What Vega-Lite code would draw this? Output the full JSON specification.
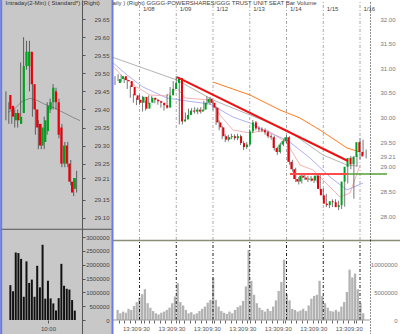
{
  "$schema": "https://vega.github.io/schema/vega-lite/v6.json",
  "width": 400,
  "height": 334,
  "autosize": {"type": "none"},
  "padding": 0,
  "background": "#c8c8c8",
  "config": {
    "view": {"stroke": null},
    "axis": {"labelFont": "Liberation Sans", "labelFontSize": 6, "grid": false, "labelOverlap": false, "titleFont": "Liberation Sans", "titleFontSize": 6, "titleFontWeight": "normal"}
  },
  "resolve": {"scale": {"x": "independent", "y": "independent"}, "axis": {"x": "independent", "y": "independent"}},
  "datasets": {
    "lc": [
      {"i":1,"o":29.44,"c":29.40,"h":29.45,"l":29.37},
      {"i":2,"o":29.41,"c":29.38,"h":29.42,"l":29.36},
      {"i":3,"o":29.37,"c":29.39,"h":29.40,"l":29.36},
      {"i":4,"o":29.39,"c":29.37,"h":29.40,"l":29.35},
      {"i":5,"o":29.36,"c":29.38,"h":29.40,"l":29.35},
      {"i":6,"o":29.39,"c":29.52,"h":29.53,"l":29.38},
      {"i":7,"o":29.52,"c":29.56,"h":29.60,"l":29.50},
      {"i":8,"o":29.52,"c":29.56,"h":29.59,"l":29.51},
      {"i":9,"o":29.56,"c":29.47,"h":29.59,"l":29.45},
      {"i":10,"o":29.47,"c":29.40,"h":29.48,"l":29.38},
      {"i":11,"o":29.40,"c":29.35,"h":29.42,"l":29.33},
      {"i":12,"o":29.36,"c":29.30,"h":29.37,"l":29.29},
      {"i":13,"o":29.30,"c":29.35,"h":29.36,"l":29.29},
      {"i":14,"o":29.31,"c":29.37,"h":29.38,"l":29.29},
      {"i":15,"o":29.34,"c":29.41,"h":29.42,"l":29.33},
      {"i":16,"o":29.40,"c":29.42,"h":29.43,"l":29.39},
      {"i":17,"o":29.42,"c":29.46,"h":29.47,"l":29.40},
      {"i":18,"o":29.45,"c":29.42,"h":29.46,"l":29.40},
      {"i":19,"o":29.42,"c":29.33,"h":29.43,"l":29.32},
      {"i":20,"o":29.35,"c":29.25,"h":29.36,"l":29.24},
      {"i":21,"o":29.25,"c":29.30,"h":29.31,"l":29.24},
      {"i":22,"o":29.30,"c":29.25,"h":29.31,"l":29.24},
      {"i":23,"o":29.25,"c":29.20,"h":29.26,"l":29.19},
      {"i":24,"o":29.20,"c":29.17,"h":29.21,"l":29.16},
      {"i":25,"o":29.18,"c":29.21,"h":29.23,"l":29.17}
    ],
    "lv": [
      {"i":1,"v":1.26},{"i":2,"v":1.04},{"i":3,"v":2.44},{"i":4,"v":2.42},{"i":5,"v":2.21},
      {"i":6,"v":0.84},{"i":7,"v":2.12},{"i":8,"v":1.34},{"i":9,"v":1.46},{"i":10,"v":0.84},
      {"i":11,"v":1.96},{"i":12,"v":1.18},{"i":13,"v":2.72},{"i":14,"v":0.77},{"i":15,"v":1.42},
      {"i":16,"v":0.78},{"i":17,"v":0.6},{"i":18,"v":0.34},{"i":19,"v":0.79},{"i":20,"v":2.03},
      {"i":21,"v":1.24},{"i":22,"v":1.13},{"i":23,"v":1.1},{"i":24,"v":0.72},{"i":25,"v":0.34}
    ],
    "lma": [
      {"i":1.71,"p":29.392},{"i":4.09,"p":29.403},{"i":6.47,"p":29.422},{"i":9.18,"p":29.431},
      {"i":11.56,"p":29.425},{"i":14.27,"p":29.414},{"i":16.98,"p":29.406},{"i":20.38,"p":29.392},
      {"i":23.77,"p":29.378},{"i":26.15,"p":29.369}
    ],
    "days": [
      {"t":1,"p0":27.513,"p1":32.386,"v0":0,"v1":14.29},{"t":2,"p0":27.513,"p1":32.386,"v0":0,"v1":14.29},
      {"t":3,"p0":27.513,"p1":32.386,"v0":0,"v1":14.29},{"t":4,"p0":27.513,"p1":32.386,"v0":0,"v1":14.29},
      {"t":5,"p0":27.513,"p1":32.386,"v0":0,"v1":14.29},{"t":6,"p0":27.513,"p1":32.386,"v0":0,"v1":14.29},
      {"t":7,"p0":27.513,"p1":32.386,"v0":0,"v1":14.29}
    ],
    "rc": [
      {"t":0.333,"o":30.70,"c":30.78,"h":30.84,"l":30.66},
      {"t":0.417,"o":30.78,"c":30.84,"h":30.88,"l":30.74},
      {"t":0.5,"o":30.84,"c":30.76,"h":30.87,"l":30.72},
      {"t":0.583,"o":30.76,"c":30.74,"h":30.80,"l":30.70},
      {"t":0.667,"o":30.74,"c":30.62,"h":30.77,"l":30.58},
      {"t":0.75,"o":30.62,"c":30.45,"h":30.65,"l":30.40},
      {"t":0.833,"o":30.45,"c":30.36,"h":30.48,"l":30.30},
      {"t":0.917,"o":30.36,"c":30.30,"h":30.40,"l":30.25},
      {"t":1.0,"o":30.30,"c":30.42,"h":30.46,"l":30.26},
      {"t":1.083,"o":30.42,"c":30.18,"h":30.44,"l":30.12},
      {"t":1.167,"o":30.18,"c":30.30,"h":30.34,"l":30.14},
      {"t":1.25,"o":30.30,"c":30.40,"h":30.45,"l":30.27},
      {"t":1.333,"o":30.40,"c":30.36,"h":30.44,"l":30.32},
      {"t":1.417,"o":30.36,"c":30.33,"h":30.40,"l":30.29},
      {"t":1.5,"o":30.33,"c":30.30,"h":30.37,"l":30.26},
      {"t":1.583,"o":30.30,"c":30.25,"h":30.34,"l":30.20},
      {"t":1.667,"o":30.25,"c":30.20,"h":30.29,"l":30.14},
      {"t":1.75,"o":30.20,"c":30.45,"h":30.48,"l":30.18},
      {"t":1.833,"o":30.45,"c":30.58,"h":30.62,"l":30.42},
      {"t":1.917,"o":30.58,"c":30.70,"h":30.74,"l":30.55},
      {"t":2.0,"o":30.70,"c":30.80,"h":30.84,"l":30.66},
      {"t":2.083,"o":30.80,"c":29.92,"h":30.82,"l":29.86},
      {"t":2.167,"o":29.92,"c":29.96,"h":30.02,"l":29.86},
      {"t":2.25,"o":29.96,"c":30.05,"h":30.10,"l":29.92},
      {"t":2.333,"o":30.05,"c":30.14,"h":30.18,"l":30.01},
      {"t":2.417,"o":30.14,"c":30.12,"h":30.19,"l":30.07},
      {"t":2.5,"o":30.12,"c":30.16,"h":30.21,"l":30.08},
      {"t":2.583,"o":30.16,"c":30.12,"h":30.20,"l":30.07},
      {"t":2.667,"o":30.12,"c":30.16,"h":30.21,"l":30.08},
      {"t":2.75,"o":30.16,"c":30.30,"h":30.34,"l":30.13},
      {"t":2.833,"o":30.30,"c":30.38,"h":30.43,"l":30.26},
      {"t":2.917,"o":30.38,"c":30.30,"h":30.42,"l":30.26},
      {"t":3.0,"o":30.30,"c":30.20,"h":30.34,"l":30.15},
      {"t":3.083,"o":30.20,"c":29.90,"h":30.23,"l":29.85},
      {"t":3.167,"o":29.90,"c":29.80,"h":29.94,"l":29.74},
      {"t":3.25,"o":29.80,"c":29.62,"h":29.83,"l":29.56},
      {"t":3.333,"o":29.62,"c":29.55,"h":29.66,"l":29.50},
      {"t":3.417,"o":29.55,"c":29.60,"h":29.65,"l":29.51},
      {"t":3.5,"o":29.60,"c":29.62,"h":29.67,"l":29.56},
      {"t":3.583,"o":29.62,"c":29.58,"h":29.66,"l":29.54},
      {"t":3.667,"o":29.58,"c":29.62,"h":29.67,"l":29.54},
      {"t":3.75,"o":29.62,"c":29.48,"h":29.65,"l":29.44},
      {"t":3.833,"o":29.48,"c":29.40,"h":29.52,"l":29.34},
      {"t":3.917,"o":29.40,"c":29.45,"h":29.50,"l":29.36},
      {"t":4.0,"o":29.45,"c":29.72,"h":29.76,"l":29.42},
      {"t":4.083,"o":29.72,"c":29.90,"h":29.95,"l":29.68},
      {"t":4.167,"o":29.90,"c":29.78,"h":29.93,"l":29.74},
      {"t":4.25,"o":29.78,"c":29.76,"h":29.82,"l":29.71},
      {"t":4.333,"o":29.76,"c":29.74,"h":29.80,"l":29.70},
      {"t":4.417,"o":29.74,"c":29.70,"h":29.78,"l":29.65},
      {"t":4.5,"o":29.70,"c":29.62,"h":29.73,"l":29.58},
      {"t":4.583,"o":29.62,"c":29.60,"h":29.66,"l":29.55},
      {"t":4.667,"o":29.60,"c":29.38,"h":29.63,"l":29.33},
      {"t":4.75,"o":29.38,"c":29.30,"h":29.41,"l":29.24},
      {"t":4.833,"o":29.30,"c":29.45,"h":29.49,"l":29.27},
      {"t":4.917,"o":29.45,"c":29.52,"h":29.56,"l":29.42},
      {"t":5.0,"o":29.52,"c":29.60,"h":29.64,"l":29.48},
      {"t":5.083,"o":29.60,"c":29.10,"h":29.62,"l":29.04},
      {"t":5.167,"o":29.10,"c":28.95,"h":29.14,"l":28.90},
      {"t":5.25,"o":28.95,"c":28.75,"h":28.98,"l":28.69},
      {"t":5.333,"o":28.75,"c":28.70,"h":28.79,"l":28.64},
      {"t":5.417,"o":28.70,"c":28.82,"h":28.86,"l":28.66},
      {"t":5.5,"o":28.82,"c":28.78,"h":28.86,"l":28.73},
      {"t":5.583,"o":28.78,"c":28.74,"h":28.82,"l":28.69},
      {"t":5.667,"o":28.74,"c":28.76,"h":28.81,"l":28.70},
      {"t":5.75,"o":28.76,"c":28.72,"h":28.80,"l":28.67},
      {"t":5.833,"o":28.72,"c":28.82,"h":28.86,"l":28.68},
      {"t":5.917,"o":28.82,"c":28.55,"h":28.85,"l":28.50},
      {"t":6.0,"o":28.55,"c":28.42,"h":28.58,"l":28.36},
      {"t":6.083,"o":28.42,"c":28.25,"h":28.45,"l":28.18},
      {"t":6.167,"o":28.25,"c":28.22,"h":28.29,"l":28.16},
      {"t":6.25,"o":28.22,"c":28.30,"h":28.34,"l":28.18},
      {"t":6.333,"o":28.30,"c":28.28,"h":28.34,"l":28.23},
      {"t":6.417,"o":28.28,"c":28.18,"h":28.31,"l":28.12},
      {"t":6.5,"o":28.18,"c":28.22,"h":28.27,"l":28.14},
      {"t":6.583,"o":28.22,"c":28.70,"h":28.74,"l":28.19},
      {"t":6.667,"o":28.70,"c":29.00,"h":29.05,"l":28.66},
      {"t":6.75,"o":29.00,"c":29.18,"h":29.22,"l":28.95},
      {"t":6.833,"o":29.18,"c":29.05,"h":29.22,"l":28.35},
      {"t":6.917,"o":29.05,"c":29.20,"h":29.25,"l":29.00},
      {"t":7.0,"o":29.20,"c":29.50,"h":29.58,"l":29.15},
      {"t":7.083,"o":29.50,"c":29.30,"h":29.55,"l":29.25},
      {"t":7.167,"o":29.30,"c":29.21,"h":29.35,"l":29.17}
    ],
    "rv": [
      {"t":0.269,"v":1.8},{"t":0.346,"v":1.2},{"t":0.423,"v":1.5},{"t":0.5,"v":1.3},{"t":0.577,"v":2.0},{"t":0.654,"v":1.8},{"t":0.731,"v":2.5},{"t":0.808,"v":3.2},{"t":0.885,"v":4.0},{"t":0.962,"v":4.6},
      {"t":1.038,"v":5.5},{"t":1.115,"v":3.0},{"t":1.192,"v":2.2},{"t":1.269,"v":1.6},{"t":1.346,"v":1.2},{"t":1.423,"v":1.0},{"t":1.5,"v":1.3},{"t":1.577,"v":1.5},{"t":1.654,"v":1.8},{"t":1.731,"v":2.2},{"t":1.808,"v":3.0},{"t":1.885,"v":4.2},{"t":1.962,"v":6.6},
      {"t":2.038,"v":3.2},{"t":2.115,"v":2.6},{"t":2.192,"v":1.8},{"t":2.269,"v":1.2},{"t":2.346,"v":1.4},{"t":2.423,"v":1.0},{"t":2.5,"v":1.2},{"t":2.577,"v":1.6},{"t":2.654,"v":2.0},{"t":2.731,"v":2.4},{"t":2.808,"v":3.1},{"t":2.885,"v":3.6},{"t":2.962,"v":7.5},
      {"t":3.038,"v":3.6},{"t":3.115,"v":2.4},{"t":3.192,"v":1.6},{"t":3.269,"v":1.3},{"t":3.346,"v":1.1},{"t":3.423,"v":1.5},{"t":3.5,"v":1.2},{"t":3.577,"v":1.8},{"t":3.654,"v":2.3},{"t":3.731,"v":2.6},{"t":3.808,"v":3.4},{"t":3.885,"v":6.0},{"t":3.962,"v":12.5},
      {"t":4.038,"v":7.0},{"t":4.115,"v":4.5},{"t":4.192,"v":3.0},{"t":4.269,"v":2.2},{"t":4.346,"v":1.8},{"t":4.423,"v":1.5},{"t":4.5,"v":2.0},{"t":4.577,"v":1.6},{"t":4.654,"v":2.4},{"t":4.731,"v":3.5},{"t":4.808,"v":5.2},{"t":4.885,"v":6.8},{"t":4.962,"v":10.8},
      {"t":5.038,"v":4.6},{"t":5.115,"v":3.5},{"t":5.192,"v":2.0},{"t":5.269,"v":1.8},{"t":5.346,"v":1.5},{"t":5.423,"v":1.7},{"t":5.5,"v":2.0},{"t":5.577,"v":1.6},{"t":5.654,"v":2.6},{"t":5.731,"v":3.8},{"t":5.808,"v":4.3},{"t":5.885,"v":4.5},{"t":5.962,"v":7.0},
      {"t":6.038,"v":4.3},{"t":6.115,"v":3.0},{"t":6.192,"v":2.2},{"t":6.269,"v":1.6},{"t":6.346,"v":1.5},{"t":6.423,"v":1.8},{"t":6.5,"v":1.5},{"t":6.577,"v":2.4},{"t":6.654,"v":3.2},{"t":6.731,"v":5.0},{"t":6.808,"v":9.0},{"t":6.885,"v":7.6},{"t":6.962,"v":8.3},
      {"t":7.038,"v":5.5},{"t":7.115,"v":3.0},{"t":7.192,"v":1.2}
    ],
    "lines": [
      {"s":"gray","t":0.252,"p":31.228},{"s":"gray","t":1.095,"p":31.005},{"s":"gray","t":2.02,"p":30.761},{"s":"gray","t":3.0,"p":30.355},{"s":"gray","t":4.007,"p":30.051},{"s":"gray","t":5.014,"p":29.746},{"s":"gray","t":5.993,"p":29.239},{"s":"gray","t":6.646,"p":29.036},{"s":"gray","t":6.918,"p":29.015},
      {"s":"blue","t":0.252,"p":31.127},{"s":"blue","t":0.66,"p":30.863},{"s":"blue","t":1.095,"p":30.619},{"s":"blue","t":1.748,"p":30.396},{"s":"blue","t":2.293,"p":30.335},{"s":"blue","t":2.918,"p":30.274},{"s":"blue","t":3.544,"p":30.01},{"s":"blue","t":4.007,"p":29.888},{"s":"blue","t":4.551,"p":29.685},{"s":"blue","t":5.014,"p":29.543},{"s":"blue","t":5.64,"p":29.178},{"s":"blue","t":6.184,"p":28.792},{"s":"blue","t":6.646,"p":28.528},{"s":"blue","t":7.082,"p":28.67},
      {"s":"pink","t":0.252,"p":31.066},{"s":"pink","t":0.551,"p":30.822},{"s":"pink","t":0.878,"p":30.64},{"s":"pink","t":1.286,"p":30.457},{"s":"pink","t":1.748,"p":30.437},{"s":"pink","t":2.02,"p":30.599},{"s":"pink","t":2.238,"p":30.396},{"s":"pink","t":2.918,"p":30.355},{"s":"pink","t":3.19,"p":30.051},{"s":"pink","t":3.544,"p":29.746},{"s":"pink","t":4.007,"p":29.685},{"s":"pink","t":4.469,"p":29.746},{"s":"pink","t":5.014,"p":29.482},{"s":"pink","t":5.367,"p":29.036},{"s":"pink","t":5.721,"p":28.934},{"s":"pink","t":6.184,"p":28.589},{"s":"pink","t":6.456,"p":28.386},{"s":"pink","t":6.728,"p":28.467},{"s":"pink","t":7.0,"p":29.036},
      {"s":"orange","t":3.0,"p":30.72},{"s":"orange","t":4.007,"p":30.457},{"s":"orange","t":4.823,"p":30.152},{"s":"orange","t":5.367,"p":29.99},{"s":"orange","t":5.912,"p":29.746},{"s":"orange","t":6.646,"p":29.381},{"s":"orange","t":7.0,"p":29.30},
      {"s":"trend","t":2.02,"p":30.822},{"s":"trend","t":6.673,"p":29.117},
      {"s":"hred","t":5.095,"p":28.853},{"s":"hred","t":6.673,"p":28.853},
      {"s":"green","t":6.646,"p":28.853},{"s":"green","t":7.735,"p":28.853}
    ]
  },
  "layer": [
    {
      "data": {"values": [{"a": 0.2517, "b": 8.088}]},
      "mark": {"type": "rect", "color": "white"},
      "encoding": {
        "x": {"field": "a", "type": "quantitative", "scale": {"domain": [0.2517, 8.088], "range": [112, 400]}, "axis": null},
        "x2": {"field": "b"}
      }
    },
    {
      "data": {"name": "lma"},
      "mark": {"type": "line", "color": "#7a7a7a", "strokeWidth": 0.8},
      "encoding": {
        "x": {"field": "i", "type": "quantitative", "scale": {"domain": [-1, 37], "range": [0, 112]}, "axis": {"orient": "top", "offset": -12, "labels": false, "ticks": false, "domain": false, "title": "Intraday(2-Min) ( Standard*)   (Right)", "titleAnchor": "start", "titleAlign": "left", "titleX": 5, "titlePadding": 7, "titleColor": "#333", "zindex": 1}},
        "y": {"field": "p", "type": "quantitative", "scale": {"domain": [29.069, 29.703], "range": [229, 0]}, "axis": null}
      }
    },
    {
      "data": {"name": "lc"},
      "mark": {"type": "rule", "color": "#444", "strokeWidth": 0.8},
      "encoding": {
        "x": {"field": "i", "type": "quantitative", "scale": {"domain": [-1, 37], "range": [0, 112]}, "axis": null},
        "y": {"field": "l", "type": "quantitative", "scale": {"domain": [29.069, 29.703], "range": [229, 0]}, "axis": {"title": null, "orient": "right", "offset": -318, "values": [29.10, 29.15, 29.21, 29.25, 29.30, 29.35, 29.40, 29.45, 29.50, 29.55, 29.60, 29.65], "format": ".2f", "labelAlign": "right", "labelPadding": 24, "tickSize": 3, "tickColor": "#555", "domainColor": "#555", "labelColor": "#444", "zindex": 1}},
        "y2": {"field": "h"}
      }
    },
    {
      "data": {"name": "lc"},
      "mark": {"type": "bar", "size": 2.2},
      "encoding": {
        "x": {"field": "i", "type": "quantitative", "scale": {"domain": [-1, 37], "range": [0, 112]}, "axis": null},
        "y": {"field": "o", "type": "quantitative", "scale": {"domain": [29.069, 29.703], "range": [229, 0]}, "axis": null},
        "y2": {"field": "c"},
        "color": {"condition": {"test": "datum.c < datum.o", "value": "#e8000b"}, "value": "#00a020"}
      }
    },
    {
      "data": {"name": "lv"},
      "mark": {"type": "bar", "size": 2, "color": "#111"},
      "encoding": {
        "x": {"field": "i", "type": "quantitative", "scale": {"domain": [-1, 37], "range": [0, 112]}, "axis": {"title": null, "orient": "bottom", "offset": -14, "values": [15], "labelExpr": "'10:00'", "tickSize": 3, "tickColor": "#555", "domain": false, "labelColor": "#444", "labelPadding": 2, "zindex": 1}},
        "y": {"field": "v", "type": "quantitative", "scale": {"domain": [-0.506, 3.29], "range": [334, 229]}, "axis": {"title": null, "orient": "right", "offset": -318, "values": [0, 0.5, 1, 1.5, 2, 2.5, 3], "labelExpr": "format(datum.value*1000000, 'd')", "labelAlign": "right", "labelPadding": 24, "tickSize": 3, "tickColor": "#555", "domainColor": "#555", "labelColor": "#444", "zindex": 1}}
      }
    },
    {
      "data": {"values": [{"a": -1, "b": 37, "v": 3.28}]},
      "mark": {"type": "rule", "color": "#555", "strokeWidth": 1},
      "encoding": {
        "x": {"field": "a", "type": "quantitative", "scale": {"domain": [-1, 37], "range": [0, 112]}, "axis": null},
        "x2": {"field": "b"},
        "y": {"field": "v", "type": "quantitative", "scale": {"domain": [-0.506, 3.29], "range": [334, 229]}, "axis": null}
      }
    },
    {
      "data": {"values": [{"i": -0.6}]},
      "mark": {"type": "rule", "color": "#6b7ce8", "strokeWidth": 2},
      "encoding": {"x": {"field": "i", "type": "quantitative", "scale": {"domain": [-1, 37], "range": [0, 112]}, "axis": null}}
    },
    {
      "data": {"name": "days"},
      "mark": {"type": "rule", "color": "#a8a8a8", "strokeDash": [3, 2, 1, 2], "strokeWidth": 1},
      "encoding": {
        "x": {"field": "t", "type": "quantitative", "scale": {"domain": [0.2517, 8.088], "range": [112, 400]}, "axis": {"orient": "top", "offset": -12, "values": [1, 2, 3, 4, 5, 6, 7], "labelExpr": "['1/07','1/08','1/09','1/12','1/13','1/14','1/15','1/16'][round(datum.value)]", "labelAlign": "left", "labelOffset": 3, "labelPadding": 1, "tickSize": 0, "domain": false, "labelColor": "#444", "title": "aily )   (Right)   GGGG-POWERSHARES/GGG TRUST UNIT SEAT   Bar   Volume", "titleAnchor": "start", "titleAlign": "left", "titlePadding": 0, "titleColor": "#444", "zindex": 1}},
        "y": {"field": "p0", "type": "quantitative", "scale": {"domain": [27.513, 32.386], "range": [240, 0]}, "axis": null},
        "y2": {"field": "p1"}
      }
    },
    {
      "data": {"name": "lines"},
      "transform": [{"filter": "datum.s == 'gray'"}],
      "mark": {"type": "line", "color": "#a0a0a0", "strokeWidth": 0.8},
      "encoding": {
        "x": {"field": "t", "type": "quantitative", "scale": {"domain": [0.2517, 8.088], "range": [112, 400]}, "axis": null},
        "y": {"field": "p", "type": "quantitative", "scale": {"domain": [27.513, 32.386], "range": [240, 0]}, "axis": null}
      }
    },
    {
      "data": {"name": "lines"},
      "transform": [{"filter": "datum.s == 'blue'"}],
      "mark": {"type": "line", "color": "#9a9af0", "strokeWidth": 0.8},
      "encoding": {
        "x": {"field": "t", "type": "quantitative", "scale": {"domain": [0.2517, 8.088], "range": [112, 400]}, "axis": null},
        "y": {"field": "p", "type": "quantitative", "scale": {"domain": [27.513, 32.386], "range": [240, 0]}, "axis": null}
      }
    },
    {
      "data": {"name": "lines"},
      "transform": [{"filter": "datum.s == 'pink'"}],
      "mark": {"type": "line", "color": "#f5a0a0", "strokeWidth": 0.8},
      "encoding": {
        "x": {"field": "t", "type": "quantitative", "scale": {"domain": [0.2517, 8.088], "range": [112, 400]}, "axis": null},
        "y": {"field": "p", "type": "quantitative", "scale": {"domain": [27.513, 32.386], "range": [240, 0]}, "axis": null}
      }
    },
    {
      "data": {"name": "lines"},
      "transform": [{"filter": "datum.s == 'orange'"}],
      "mark": {"type": "line", "color": "#ff7a1f", "strokeWidth": 1},
      "encoding": {
        "x": {"field": "t", "type": "quantitative", "scale": {"domain": [0.2517, 8.088], "range": [112, 400]}, "axis": null},
        "y": {"field": "p", "type": "quantitative", "scale": {"domain": [27.513, 32.386], "range": [240, 0]}, "axis": null}
      }
    },
    {
      "data": {"name": "rc"},
      "mark": {"type": "rule", "color": "#555", "strokeWidth": 0.8},
      "encoding": {
        "x": {"field": "t", "type": "quantitative", "scale": {"domain": [0.2517, 8.088], "range": [112, 400]}, "axis": null},
        "y": {"field": "l", "type": "quantitative", "scale": {"domain": [27.513, 32.386], "range": [240, 0]}, "axis": {"title": null, "orient": "right", "offset": -30, "values": [28, 28.5, 29, 29.21, 29.5, 30, 30.5, 31, 31.5, 32], "format": ".2f", "labelAlign": "right", "labelPadding": 25, "tickSize": 0, "domainColor": "#222", "domainDash": [1, 2], "labelColor": "#777", "zindex": 1}},
        "y2": {"field": "h"}
      }
    },
    {
      "data": {"name": "rc"},
      "mark": {"type": "bar", "size": 2},
      "encoding": {
        "x": {"field": "t", "type": "quantitative", "scale": {"domain": [0.2517, 8.088], "range": [112, 400]}, "axis": null},
        "y": {"field": "o", "type": "quantitative", "scale": {"domain": [27.513, 32.386], "range": [240, 0]}, "axis": null},
        "y2": {"field": "c"},
        "color": {"condition": {"test": "datum.c < datum.o", "value": "#e8000b"}, "value": "#00a020"}
      }
    },
    {
      "data": {"name": "lines"},
      "transform": [{"filter": "datum.s == 'trend'"}],
      "mark": {"type": "line", "color": "#ee1111", "strokeWidth": 2},
      "encoding": {
        "x": {"field": "t", "type": "quantitative", "scale": {"domain": [0.2517, 8.088], "range": [112, 400]}, "axis": null},
        "y": {"field": "p", "type": "quantitative", "scale": {"domain": [27.513, 32.386], "range": [240, 0]}, "axis": null}
      }
    },
    {
      "data": {"name": "lines"},
      "transform": [{"filter": "datum.s == 'hred'"}],
      "mark": {"type": "line", "color": "#ff4a4a", "strokeWidth": 2},
      "encoding": {
        "x": {"field": "t", "type": "quantitative", "scale": {"domain": [0.2517, 8.088], "range": [112, 400]}, "axis": null},
        "y": {"field": "p", "type": "quantitative", "scale": {"domain": [27.513, 32.386], "range": [240, 0]}, "axis": null}
      }
    },
    {
      "data": {"name": "lines"},
      "transform": [{"filter": "datum.s == 'green'"}],
      "mark": {"type": "line", "color": "#55a030", "strokeWidth": 1.5},
      "encoding": {
        "x": {"field": "t", "type": "quantitative", "scale": {"domain": [0.2517, 8.088], "range": [112, 400]}, "axis": null},
        "y": {"field": "p", "type": "quantitative", "scale": {"domain": [27.513, 32.386], "range": [240, 0]}, "axis": null}
      }
    },
    {
      "data": {"name": "rv"},
      "mark": {"type": "bar", "size": 2.3, "color": "#b2b2b2"},
      "encoding": {
        "x": {"field": "t", "type": "quantitative", "scale": {"domain": [0.2517, 8.088], "range": [112, 400]}, "axis": {"title": null, "orient": "bottom", "offset": -14, "values": [0.3077, 0.4615, 0.6154, 0.7692, 0.9231, 1, 1.1538, 1.3077, 1.4615, 1.6154, 1.7692, 1.9231, 2, 2.1538, 2.3077, 2.4615, 2.6154, 2.7692, 2.9231, 3, 3.1538, 3.3077, 3.4615, 3.6154, 3.7692, 3.9231, 4, 4.1538, 4.3077, 4.4615, 4.6154, 4.7692, 4.9231, 5, 5.1538, 5.3077, 5.4615, 5.6154, 5.7692, 5.9231, 6, 6.1538, 6.3077, 6.4615, 6.6154, 6.7692, 6.9231, 7, 7.1538], "labelExpr": "abs(datum.value - round(datum.value)) < 0.01 ? '9:30' : (abs(datum.value - floor(datum.value) - 0.6154) < 0.01 ? '13:30' : '')", "tickSize": 3, "tickColor": "#666", "domain": false, "labelColor": "#555", "labelPadding": 2, "labelBound": false, "labelFlush": false, "zindex": 1}},
        "y": {"field": "v", "type": "quantitative", "scale": {"domain": [-2.5, 14.29], "range": [334, 240]}, "axis": {"title": null, "orient": "right", "offset": -30, "values": [0, 5, 10], "labelExpr": "format(datum.value*1000000, 'd')", "labelAlign": "right", "labelPadding": 27, "tickSize": 0, "domainColor": "#222", "domainDash": [1, 2], "labelColor": "#777", "zindex": 1}}
      }
    },
    {
      "data": {"name": "days"},
      "mark": {"type": "rule", "color": "#222", "strokeDash": [3, 2, 1, 2], "strokeWidth": 1},
      "encoding": {
        "x": {"field": "t", "type": "quantitative", "scale": {"domain": [0.2517, 8.088], "range": [112, 400]}, "axis": null},
        "y": {"field": "v0", "type": "quantitative", "scale": {"domain": [-2.5, 14.29], "range": [334, 240]}, "axis": null},
        "y2": {"field": "v1"}
      }
    },
    {
      "data": {"values": [{"a": 0.2517, "b": 7.27, "v": 0}]},
      "mark": {"type": "rule", "color": "#999", "strokeWidth": 1},
      "encoding": {
        "x": {"field": "a", "type": "quantitative", "scale": {"domain": [0.2517, 8.088], "range": [112, 400]}, "axis": null},
        "x2": {"field": "b"},
        "y": {"field": "v", "type": "quantitative", "scale": {"domain": [-2.5, 14.29], "range": [334, 240]}, "axis": null}
      }
    },
    {
      "data": {"values": [{"a": 0.2517, "b": 8.088, "v": 14.2}]},
      "mark": {"type": "rule", "color": "#8c8c78", "strokeWidth": 1.5},
      "encoding": {
        "x": {"field": "a", "type": "quantitative", "scale": {"domain": [0.2517, 8.088], "range": [112, 400]}, "axis": null},
        "x2": {"field": "b"},
        "y": {"field": "v", "type": "quantitative", "scale": {"domain": [-2.5, 14.29], "range": [334, 240]}, "axis": null}
      }
    },
    {
      "data": {"values": [{"t": 0.2653}]},
      "mark": {"type": "rule", "color": "#6b7ce8", "strokeWidth": 2},
      "encoding": {"x": {"field": "t", "type": "quantitative", "scale": {"domain": [0.2517, 8.088], "range": [112, 400]}, "axis": null}}
    }
  ]
}
